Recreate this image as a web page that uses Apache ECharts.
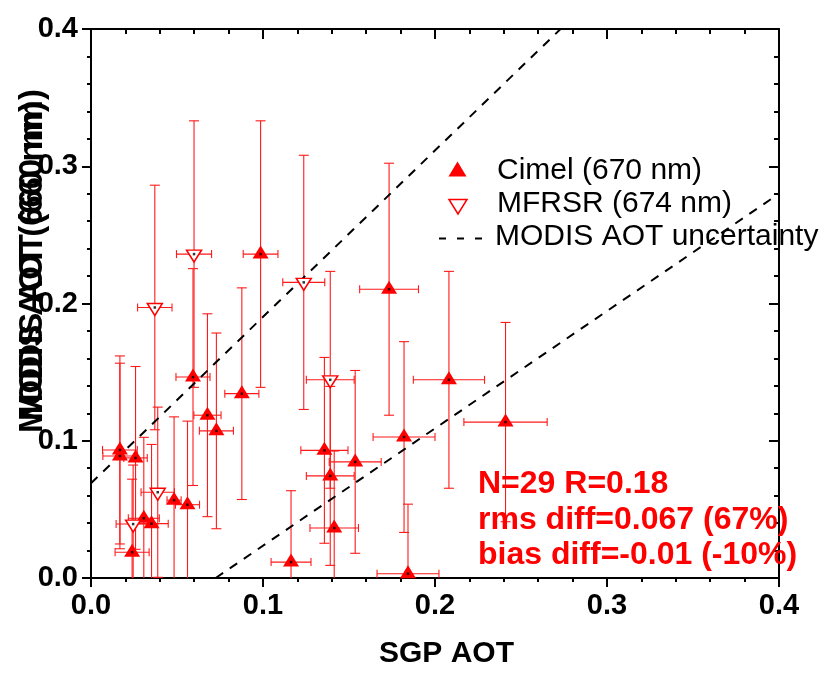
<!DOCTYPE html>
<html><head><meta charset="utf-8">
<script src="https://cdn.jsdelivr.net/npm/echarts@6/dist/echarts.min.js"></script>
<style>html,body{margin:0;padding:0;background:#fff}#c{width:821px;height:674px}</style>
</head><body><div id="c"></div>
<script>
// ---- data ----
const cimelX    = [0.0168,0.0168,0.0259,0.0239,0.0307,0.0352,0.0483,0.0561,0.0593,0.0677,0.0729,0.0877,0.1163,0.0986,0.1733,0.2081,0.2410,0.1820,0.1357,0.1536,0.1391,0.1414,0.1843];
const cimelY    = [0.0933,0.0889,0.0875,0.0188,0.0435,0.0396,0.0567,0.0534,0.1464,0.1186,0.1072,0.1343,0.0116,0.2360,0.2104,0.1444,0.1136,0.1027,0.0930,0.0846,0.0744,0.0364,0.0031];
const cimelXErr = [0.0101,0.0099,0.0068,0.0099,0.0090,0.0097,0.0041,0.0070,0.0099,0.0079,0.0099,0.0099,0.0116,0.0101,0.0171,0.0207,0.0242,0.0180,0.0137,0.0151,0.0139,0.0141,0.0180];
const cimelYErr = [0.0685,0.0676,0.0666,0.0532,0.0590,0.0577,0.0607,0.0609,0.0790,0.0739,0.0713,0.0771,0.0520,0.0971,0.0918,0.0790,0.0726,0.0695,0.0677,0.0666,0.0652,0.0561,0.0507];

const mfrsrX    = [0.0245,0.0388,0.0371,0.0599,0.1237,0.1391];
const mfrsrY    = [0.0393,0.0625,0.1971,0.2360,0.2154,0.1444];
const mfrsrXErr = [0.0099,0.0097,0.0100,0.0102,0.0122,0.0139];
const mfrsrYErr = [0.0430,0.0620,0.0891,0.0971,0.0926,0.0790];

const upperX = [0, 0.273];
const upperY = [0.069, 0.4];
const lowerX = [0.0725, 0.4];
const lowerY = [0, 0.280];

const xTickLabels = ['0.0','0.1','0.2','0.3','0.4'];
const yTickLabels = ['0.0','0.1','0.2','0.3','0.4'];

const statLines = ['N=29 R=0.18','rms diff=0.067 (67%)','bias diff=-0.01 (-10%)'];
const legendLabels = ['Cimel (670 nm)','MFRSR (674 nm)','MODIS AOT uncertainty'];
const yTitle = 'MODIS AOT (660 nm)';
const xTitle = 'SGP AOT';

// ---- build ----
const FF = '"Liberation Sans", Arial, Helvetica, sans-serif';
const RED = '#ff0000';
const zip4 = (a,b,c,d) => a.map((v,i)=>[v,b[i],c[i],d[i]]);
const zip2 = (a,b) => a.map((v,i)=>[v,b[i]]);

function errRender(params, api){
  const x=api.value(0), y=api.value(1), xe=api.value(2), ye=api.value(3);
  const lo=Math.max(0,y-ye), hi=Math.min(0.4,y+ye);
  const pLo=api.coord([x,lo]), pHi=api.coord([x,hi]);
  const pL=api.coord([x-xe,y]), pR=api.coord([x+xe,y]);
  const st={stroke:'#ff1a1a', lineWidth:1.1};
  const ch=[
    {type:'line',shape:{x1:pLo[0],y1:pLo[1],x2:pHi[0],y2:pHi[1]},style:st},
    {type:'line',shape:{x1:pL[0],y1:pL[1],x2:pR[0],y2:pR[1]},style:st},
    {type:'line',shape:{x1:pL[0],y1:pL[1]-4,x2:pL[0],y2:pL[1]+4},style:st},
    {type:'line',shape:{x1:pR[0],y1:pR[1]-4,x2:pR[0],y2:pR[1]+4},style:st}
  ];
  if (y+ye<=0.4) ch.push({type:'line',shape:{x1:pHi[0]-5,y1:pHi[1],x2:pHi[0]+5,y2:pHi[1]},style:st});
  if (y-ye>=0) ch.push({type:'line',shape:{x1:pLo[0]-5,y1:pLo[1],x2:pLo[0]+5,y2:pLo[1]},style:st});
  return {type:'group',children:ch};
}

function mkAxis(pos, isMain){
  return {
    type:'value', min:0, max:0.4, interval:0.1, position:pos,
    axisLine:{show:true,onZero:false,lineStyle:{color:'#000',width:2}},
    axisTick:{show:true,inside:!isMain,length:isMain?9:10,lineStyle:{color:'#000',width:2}},
    minorTick:{show:true,splitNumber:5,length:isMain?4:5,lineStyle:{color:'#000',width:2}},
    splitLine:{show:false}, minorSplitLine:{show:false},
    axisLabel:{show:isMain, margin:13, fontSize:29, fontWeight:'bold', color:'#000', fontFamily:FF,
      formatter:v=>((pos==='bottom'||pos==='top')?xTickLabels:yTickLabels)[Math.round(v*10)]}
  };
}

const xMain = mkAxis('bottom',true);
xMain.name = xTitle; xMain.nameLocation='middle'; xMain.nameGap=61;
xMain.nameTextStyle={fontSize:30,fontWeight:'bold',color:'#000',fontFamily:FF,padding:[0,0,0,23]};

const option = {
  animation:false,
  backgroundColor:'#fff',
  grid:{left:91,right:42,top:29,bottom:93,containLabel:false},
  xAxis:[xMain, mkAxis('top',false)],
  yAxis:[mkAxis('left',true), mkAxis('right',false)],
  series:[
    {name:'Cimel err',type:'custom',renderItem:errRender,data:zip4(cimelX,cimelY,cimelXErr,cimelYErr),z:2,silent:true},
    {name:'MFRSR err',type:'custom',renderItem:errRender,data:zip4(mfrsrX,mfrsrY,mfrsrXErr,mfrsrYErr),z:2,silent:true},
    {name:'MODIS AOT uncertainty',type:'line',data:zip2(upperX,upperY),showSymbol:false,symbol:'none',
      lineStyle:{color:'#000',width:2,type:[9,8]},z:3,silent:true},
    {name:'MODIS AOT uncertainty (low)',type:'line',data:zip2(lowerX,lowerY),showSymbol:false,symbol:'none',
      lineStyle:{color:'#000',width:2,type:[9,8]},z:3,silent:true},
    {name:'Cimel (670 nm)',type:'scatter',data:zip2(cimelX,cimelY),symbol:'triangle',symbolSize:[16,13],symbolOffset:[0,-2],
      itemStyle:{color:RED,opacity:1},z:5},
    {name:'MFRSR (674 nm)',type:'scatter',data:zip2(mfrsrX,mfrsrY),symbol:'path://M0,0L14,0L7,12Z',symbolSize:[15,12],symbolOffset:[0,2],
      itemStyle:{color:'#fff',borderColor:RED,borderWidth:1.5,opacity:1},z:5},
    {name:'centers',type:'scatter',data:zip2(cimelX,cimelY).concat(zip2(mfrsrX,mfrsrY)),symbol:'rect',symbolSize:2.5,
      itemStyle:{color:'#000'},z:6,silent:true}
  ],
  graphic:[
    {type:'text',x:33,y:433,rotation:Math.PI/2,z:10,style:{text:yTitle,fontSize:33,fontWeight:'bold',fontFamily:FF,fill:'#000',align:'left',verticalAlign:'middle'}},
    {type:'text',x:33,y:421,rotation:Math.PI/2,z:10,style:{text:yTitle,fontSize:33,fontWeight:'bold',fontFamily:FF,fill:'#000',align:'left',verticalAlign:'middle'}},
    {type:'polygon',z:10,shape:{points:[[457.5,161.5],[466.5,176.5],[448.5,176.5]]},style:{fill:RED}},
    {type:'polygon',z:10,shape:{points:[[449,199.5],[467,199.5],[458,214]]},style:{fill:'#fff',stroke:RED,lineWidth:1.5}},
    {type:'line',z:10,shape:{x1:439,y1:238.5,x2:482,y2:238.5},style:{stroke:'#000',lineWidth:2,lineDash:[7,11]}},
    {type:'text',x:497,y:170.7,z:10,style:{text:legendLabels[0],fontSize:30,fontFamily:FF,fill:'#000',verticalAlign:'middle'}},
    {type:'text',x:497,y:203.3,z:10,style:{text:legendLabels[1],fontSize:30,fontFamily:FF,fill:'#000',verticalAlign:'middle'}},
    {type:'text',x:495,y:236.7,z:10,style:{text:legendLabels[2],fontSize:30,fontFamily:FF,fill:'#000',verticalAlign:'middle'}},
    {type:'text',x:478,y:484.5,z:10,style:{text:statLines[0],fontSize:32,fontWeight:'bold',fontFamily:FF,fill:RED,verticalAlign:'middle'}},
    {type:'text',x:478,y:520,z:10,style:{text:statLines[1],fontSize:32,fontWeight:'bold',fontFamily:FF,fill:RED,verticalAlign:'middle'}},
    {type:'text',x:478,y:555,z:10,style:{text:statLines[2],fontSize:32,fontWeight:'bold',fontFamily:FF,fill:RED,verticalAlign:'middle'}}
  ]
};
const chart = echarts.init(document.getElementById('c'));
chart.setOption(option);
</script>
</body></html>
